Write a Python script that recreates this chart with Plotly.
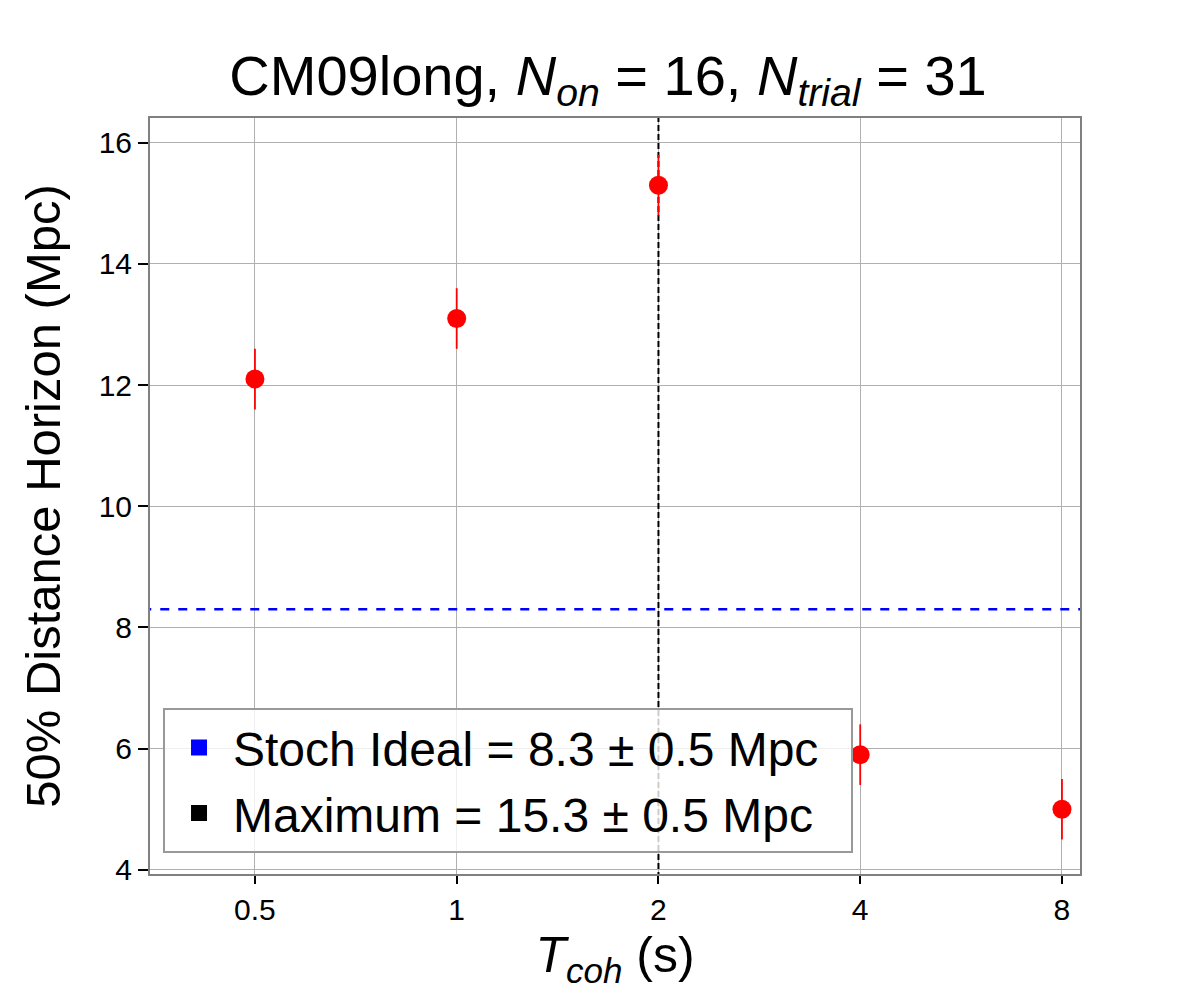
import plotly.graph_objects as go

# coherence times (s) and 50% distance horizons (Mpc)
t_coh = [0.5, 1, 2, 4, 8]
horizon = [12.1, 13.1, 15.3, 5.9, 5.0]
horizon_err = [0.5, 0.5, 0.5, 0.5, 0.5]

stoch_ideal = 8.3
stoch_err = 0.5
t_max = 2
max_horizon = 15.3
max_err = 0.5

x_ticks = [0.5, 1, 2, 4, 8]
x_tick_labels = ["0.5", "1", "2", "4", "8"]
y_ticks = [4, 6, 8, 10, 12, 14, 16]

font_family = "Liberation Sans, Arial, sans-serif"

fig = go.Figure()

# stochastic ideal line
fig.add_trace(go.Scatter(
    x=[0.3, 10],
    y=[stoch_ideal, stoch_ideal],
    mode='lines',
    line={"color": "blue", "width": 2.5, "dash": "dash"},
    showlegend=False,
    hoverinfo='skip')
)

# maximum line
fig.add_trace(go.Scatter(
    x=[t_max, t_max],
    y=[0, 20],
    mode='lines',
    line={"color": "black", "width": 2, "dash": "6px,3px"},
    showlegend=False,
    hoverinfo='skip')
)

fig.add_trace(go.Scatter(
    x=t_coh,
    y=horizon,
    mode='markers',
    marker={"color": "red", "size": 19},
    error_y={"type": "data", "array": horizon_err, "color": "red", "thickness": 1.8, "width": 0},
    showlegend=False)
)

# legend entries
fig.add_trace(go.Scatter(
    x=[None], y=[None],
    mode='markers',
    marker={"color": "blue", "symbol": "square", "size": 16},
    name="Stoch Ideal = {} \u00b1 {} Mpc\u00a0\u00a0".format(stoch_ideal, stoch_err),
    legendgroup="a")
)
fig.add_trace(go.Scatter(
    x=[None], y=[None],
    mode='markers',
    marker={"color": "black", "symbol": "square", "size": 16},
    name="Maximum = {} \u00b1 {} Mpc".format(max_horizon, max_err),
    legendgroup="b")
)

fig.update_layout(
    width=1200,
    height=1000,
    paper_bgcolor="white",
    plot_bgcolor="white",
    font={"family": font_family, "color": "black"},
    margin={"l": 142, "r": 128, "t": 110, "b": 134},
    title={
        "text": "CM09long, <i>N<sub>on</sub></i> = 16, <i>N<sub>trial</sub></i> = 31",
        "x": 0.5,
        "xanchor": "center",
        "y": 0.933,
        "yanchor": "middle",
        "font": {"size": 56}
    },
    xaxis={
        "type": "log",
        "range": [-0.4576, 0.930],
        "tickvals": x_ticks,
        "ticktext": x_tick_labels,
        "tickfont": {"size": 30},
        "ticks": "outside",
        "ticklen": 8,
        "tickwidth": 2,
        "tickcolor": "black",
        "showgrid": True,
        "gridcolor": "#b0b0b0",
        "gridwidth": 1,
        "showline": True,
        "linecolor": "#808080",
        "linewidth": 2,
        "mirror": True,
        "zeroline": False,
        "title": {"text": "<i>T<sub>coh</sub></i> (s)", "font": {"size": 50}, "standoff": 12}
    },
    yaxis={
        "range": [3.93, 16.41],
        "tickvals": y_ticks,
        "tickfont": {"size": 30},
        "ticks": "outside",
        "ticklen": 10,
        "tickwidth": 2,
        "tickcolor": "black",
        "showgrid": True,
        "gridcolor": "#b0b0b0",
        "gridwidth": 1,
        "showline": True,
        "linecolor": "#808080",
        "linewidth": 2,
        "mirror": True,
        "zeroline": False,
        "title": {"text": "50% Distance Horizon (Mpc)", "font": {"size": 49}, "standoff": 22}
    },
    legend={
        "x": 0.014,
        "y": 0.028,
        "xanchor": "left",
        "yanchor": "bottom",
        "bgcolor": "rgba(255,255,255,0.8)",
        "bordercolor": "#999999",
        "borderwidth": 2,
        "font": {"size": 48},
        "tracegroupgap": 0,
        "itemwidth": 58
    }
)

fig.write_html("out.html")
